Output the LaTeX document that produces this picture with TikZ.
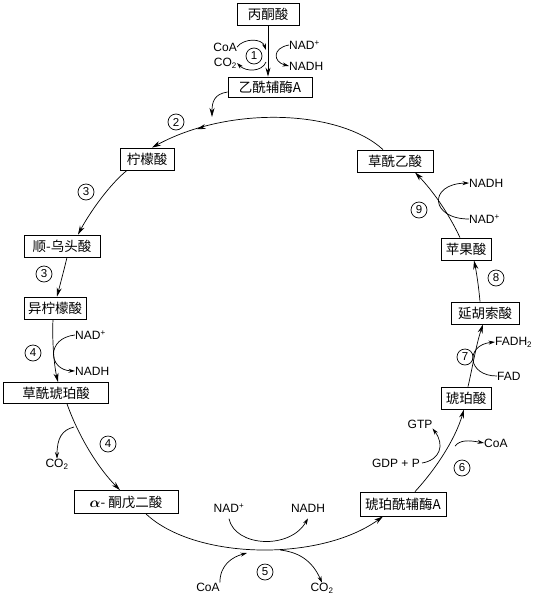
\documentclass[tikz,border=0pt]{standalone}
\usepackage{fontspec}
\setsansfont{Liberation Sans}
\newfontfamily\cjk{Noto Sans CJK SC}
\usetikzlibrary{arrows.meta,decorations.markings}
\tikzset{
  box/.style={draw, line width=0.8pt, inner sep=1pt, minimum height=22pt, font=\cjk\fontsize{13.5}{15}\selectfont},
  lbl/.style={inner sep=0pt, font=\sffamily\fontsize{12}{14}\selectfont},
  circnum/.style={circle, draw, line width=0.7pt, inner sep=0pt, minimum size=16pt, font=\sffamily\fontsize{11.5}{13}\selectfont},
  arr/.style={-{Stealth[length=9pt,width=5pt]}, line width=0.7pt},
  sarr/.style={-{Stealth[length=6.5pt,width=4pt]}, line width=0.7pt},
  midarr/.style={postaction={decorate, decoration={markings, mark=at position #1 with {\arrow{Stealth[length=9pt,width=5pt]}}}}}
}
\begin{document}
\begin{tikzpicture}[x=1pt,y=-1pt]
\useasboundingbox (0,0) rectangle (551,600);
% boxes
\node[box, minimum width=62pt] (pyr) at (268,14) {丙酮酸};
\node[box, minimum width=84pt, minimum height=20pt] (acoa) at (270,87) {乙酰辅酶A};
\node[box, minimum width=54pt] (cit) at (147,159) {柠檬酸};
\node[box, minimum width=76pt] (oaa) at (395,161) {草酰乙酸};
\node[box, minimum width=76pt] (aco) at (62,246) {顺-乌头酸};
\node[box, minimum width=62pt] (icit) at (55,308) {异柠檬酸};
\node[box, minimum width=105pt, minimum height=21pt] (oxs) at (56,393) {草酰琥珀酸};
\node[box, minimum width=104pt, minimum height=23pt] (akg) at (126,502) {{\boldmath$\alpha$}- 酮戊二酸};
\node[box, minimum width=86pt, minimum height=24pt] (scoa) at (403,504) {琥珀酰辅酶A};
\node[box, minimum width=50pt] (suc) at (466,398) {琥珀酸};
\node[box, minimum width=68pt] (fum) at (485,313) {延胡索酸};
\node[box, minimum width=50pt] (mal) at (466,249) {苹果酸};
% circled numbers
\node[circnum] (n1) at (254,56) {1};
\node[circnum] (n2) at (176,122) {2};
\node[circnum] (n3a) at (86,192) {3};
\node[circnum] (n3b) at (44,274) {3};
\node[circnum] (n4a) at (33,353) {4};
\node[circnum] (n4b) at (108,444) {4};
\node[circnum] (n5) at (265,572) {5};
\node[circnum] (n6) at (462,468) {6};
\node[circnum] (n7) at (465,357) {7};
\node[circnum] (n8) at (496,278) {8};
\node[circnum] (n9) at (419,210) {9};
% labels
\node[lbl, anchor=east] (coa1) at (237,47) {CoA};
\node[lbl, anchor=east] (co21) at (237,63) {CO\textsubscript{2}};
\node[lbl, anchor=west] (nad1) at (289,45) {NAD\textsuperscript{+}};
\node[lbl, anchor=west] (nadh1) at (289,66) {NADH};
\node[lbl, anchor=west] (nad4) at (75,335) {NAD\textsuperscript{+}};
\node[lbl, anchor=west] (nadh4) at (75,371) {NADH};
\node[lbl] (co24) at (57,464) {CO\textsubscript{2}};
\node[lbl] (nad5) at (229,508) {NAD\textsuperscript{+}};
\node[lbl] (nadh5) at (308,508) {NADH};
\node[lbl] (coa5) at (208,587) {CoA};
\node[lbl] (co25) at (322,588) {CO\textsubscript{2}};
\node[lbl, anchor=east] (gdp) at (420,463) {GDP + P};
\node[lbl] (gtp) at (420,424) {GTP};
\node[lbl, anchor=west] (coa6) at (484,443) {CoA};
\node[lbl, anchor=west] (fad) at (497,376) {FAD};
\node[lbl, anchor=west] (fadh) at (495,342) {FADH\textsubscript{2}};
\node[lbl, anchor=west] (nad9) at (469,219) {NAD\textsuperscript{+}};
\node[lbl, anchor=west] (nadh9) at (469,183) {NADH};
% step 1
\draw[arr] (pyr.south) -- (pyr.south |- acoa.north);
\draw[sarr] (coa1.east) .. controls (244,38) and (262,38) .. (266,50);
\draw[sarr] (266,62) .. controls (262,72) and (246,72) .. (co21.east);
\draw[sarr] (nad1.west) .. controls (272,48) and (273,62) .. (nadh1.west);
% step 2
\coordinate (join) at (212,117);
\draw[arr] ([yshift=-5pt]acoa.west) .. controls (214,94) and (212,102) .. (join);
\draw[arr, midarr=0.8] ([xshift=-12pt]oaa.north) .. controls (340,110) and (230,105) .. ([xshift=5pt]cit.north);
% step 3
\draw[arr] ([xshift=-20pt]cit.south) .. controls (110,184) and (90,212) .. ([xshift=16pt]aco.north);
\draw[arr] ([xshift=5pt]aco.south) .. controls (64,270) and (60,285) .. ([xshift=2pt]icit.north);
% step 4
\draw[arr] ([xshift=-2pt]icit.south) .. controls (52,340) and (54,365) .. ([xshift=2pt]oxs.north);
\draw[sarr] (nad4.west) .. controls (46,338) and (48,370) .. (nadh4.west);
\draw[arr] ([xshift=11pt]oxs.south) .. controls (80,440) and (100,470) .. ([xshift=-6pt]akg.north);
\coordinate (b4) at (74,427);
\draw[sarr] (b4) .. controls (62,430) and (57,438) .. (co24.north);
% step 5
\draw[arr] ([xshift=20pt]akg.south) .. controls (195,560) and (320,562) .. ([xshift=-20pt]scoa.south);
\draw[sarr] ([yshift=-6pt]nad5.south) .. controls (235,547) and (290,550) .. ([yshift=-6pt]nadh5.south);
\coordinate (in5) at (247,553);
\coordinate (out5) at (280,550);
\draw[sarr] (coa5.north east) .. controls (220,565) and (232,557) .. (in5);
\draw[sarr] (out5) .. controls (298,552) and (312,560) .. (co25.north);
% step 6
\draw[arr] ([xshift=12pt]scoa.north) .. controls (435,470) and (455,440) .. ([xshift=-2pt]suc.south);
\draw[sarr] ([xshift=2pt]gdp.east) .. controls (440,460) and (445,445) .. (gtp.south east);
\coordinate (b6) at (455,446);
\draw[sarr] (b6) .. controls (460,440) and (468,440) .. (coa6.west);
% step 7
\draw[arr] ([xshift=2pt]suc.north) .. controls (472,370) and (476,345) .. ([xshift=-2pt]fum.south);
\draw[sarr] (fad.west) .. controls (467,376) and (465,345) .. (fadh.west);
% step 8
\draw[arr] ([xshift=-5pt]fum.north) .. controls (479,290) and (477,275) .. ([xshift=8pt]mal.south);
% step 9
\draw[arr] ([xshift=-6pt]mal.north) .. controls (448,212) and (432,190) .. ([xshift=20pt]oaa.south);
\draw[sarr] (nad9.west) .. controls (430,219) and (428,184) .. (nadh9.west);
\end{tikzpicture}
\end{document}
